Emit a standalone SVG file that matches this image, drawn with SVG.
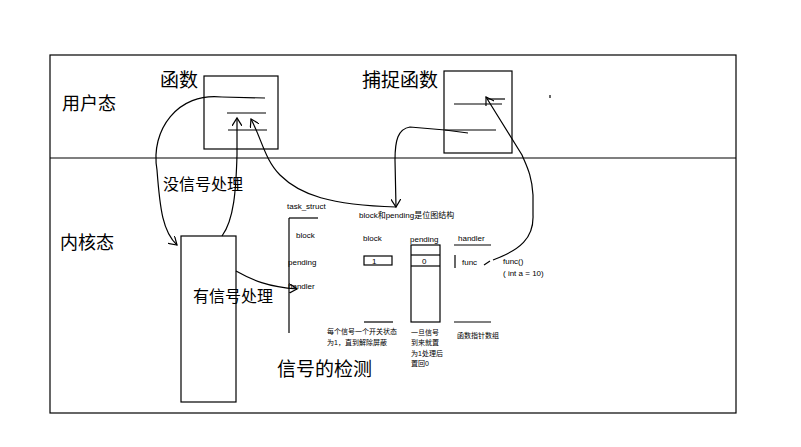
<svg xmlns="http://www.w3.org/2000/svg" width="801" height="447" viewBox="0 0 801 447">
<defs>
<marker id="ah" markerWidth="10" markerHeight="10" refX="8" refY="5" orient="auto" markerUnits="userSpaceOnUse">
<path d="M0,0 L8,5 L0,10" fill="none" stroke="#000" stroke-width="1.2"/>
</marker>
</defs>
<style>
.ln{stroke:#000;stroke-width:1.2;fill:none}
.bx{stroke:#000;stroke-width:1.2;fill:#fff}
.t{font-family:"Liberation Sans","Noto Sans CJK SC",sans-serif;fill:#000}
.big{font-size:19px}
.zone{font-size:18px}
.mid{font-size:16px}
.sm{font-size:8px}
.xs{font-size:7px}
</style>
<rect width="801" height="447" fill="#fff"/>
<g id="frame">
<rect x="50" y="55" width="686" height="358" class="ln"/>
<line x1="50" y1="158" x2="736" y2="158" class="ln"/>
<text x="62" y="110" class="t zone">用户态</text>
<text x="60" y="249" class="t zone">内核态</text>
</g>
<g id="func">
<text x="160" y="87" class="t big">函数</text>
<rect x="204" y="76" width="74" height="73" class="bx"/>
<line x1="222" y1="97" x2="265" y2="98" class="ln"/>
<line x1="227" y1="113" x2="266" y2="113" class="ln"/>
<line x1="228" y1="130" x2="267" y2="130" class="ln"/>
</g>
<g id="catch">
<text x="362" y="87" class="t big">捕捉函数</text>
<rect x="444" y="71" width="68" height="82" class="bx"/>
<line x1="454" y1="104" x2="502" y2="104" class="ln"/>
<line x1="487" y1="99" x2="505" y2="99" class="ln"/>
<line x1="445" y1="130" x2="496" y2="130" class="ln"/>
<line x1="550" y1="95" x2="550" y2="98" class="ln"/>
</g>
<g id="kernel">
<rect x="181" y="236" width="55" height="166" class="bx"/>
</g>
<g id="labels">
<text x="163" y="190" class="t mid">没信号处理</text>
<text x="193" y="302" class="t mid">有信号处理</text>
<text x="277" y="376" class="t big">信号的检测</text>
</g>
<g id="task_struct">
<text x="287" y="209" class="t sm">task_struct</text>
<line x1="289" y1="218" x2="318" y2="218" class="ln"/>
<line x1="289" y1="218" x2="289" y2="333" class="ln"/>
<text x="296" y="238" class="t sm">block</text>
<text x="288" y="265" class="t sm">pending</text>
<text x="288" y="289" class="t sm">handler</text>
</g>
<g id="bitmaps">
<text x="359" y="218" class="t sm">block和pending是位图结构</text>
<text x="363" y="241" class="t sm">block</text>
<rect x="364" y="256" width="28" height="9" class="ln"/>
<text x="372" y="264" class="t sm">1</text>
<line x1="364" y1="322" x2="393" y2="322" class="ln"/>
<text x="410" y="242" class="t sm">pending</text>
<rect x="411" y="245" width="29" height="77" class="ln"/>
<line x1="411" y1="255" x2="440" y2="255" class="ln"/>
<line x1="411" y1="266" x2="440" y2="266" class="ln"/>
<text x="422" y="264" class="t sm">0</text>
<text x="458" y="241" class="t sm">handler</text>
<line x1="454" y1="245" x2="491" y2="245" class="ln"/>
<line x1="455" y1="255" x2="455" y2="268" class="ln"/>
<text x="462" y="265" class="t sm">func</text>
<line x1="454" y1="322" x2="491" y2="322" class="ln"/>
<text x="503" y="264" class="t sm">func()</text>
<text x="503" y="276" class="t sm">( int a = 10)</text>
<text x="327" y="334" class="t xs">每个信号一个开关状态</text>
<text x="327" y="345" class="t xs">为1，直到解除屏蔽</text>
<text x="411" y="335" class="t xs">一旦信号</text>
<text x="411" y="345" class="t xs">到来就置</text>
<text x="411" y="356" class="t xs">为1处理后</text>
<text x="411" y="366" class="t xs">置回0</text>
<text x="457" y="338" class="t xs">函数指针数组</text>
</g>
<g id="connectors">
<path d="M222,97 C178,92 150,130 157,170 C160,210 163,232 177,245" class="ln" marker-end="url(#ah)"/>
<path d="M222,236 C234,220 236,190 237,155 L237,118" class="ln" marker-end="url(#ah)"/>
<path d="M396,207 C330,205 300,195 280,175 C265,160 262,140 251,119" class="ln" marker-end="url(#ah)"/>
<path d="M468,133 L445,130 L410,127 C398,129 395,140 395,160 L396,207" class="ln" marker-end="url(#ah)"/>
<path d="M493,260 C520,250 534,238 533,215 L533,195 C532,175 526,165 522,155 L486,97" class="ln" marker-end="url(#ah)"/>
<path d="M236,271 C252,280 268,287 297,289" class="ln" marker-end="url(#ah)"/>
<path d="M484,265 L490,261" class="ln"/>
</g>
</svg>
